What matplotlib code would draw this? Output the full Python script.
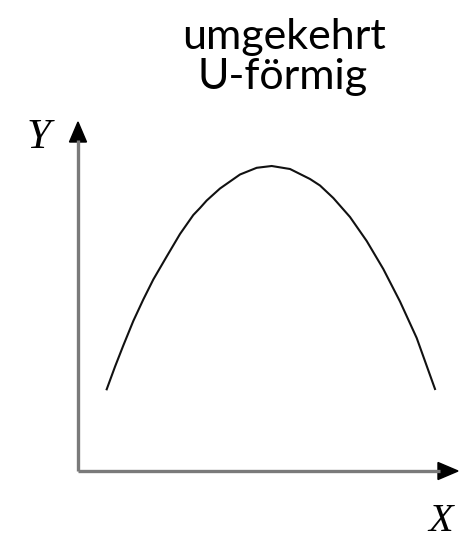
import matplotlib.pyplot as plt

# curve (origin = corner of the axes, y upward)
curve_x = [28.7, 37, 45.3, 55.3, 65.3, 75.3, 88.7, 102, 115.3, 122, 128.7, 142, 162, 178.7, 193.7,
           212, 232, 242, 255.3, 272, 288.7, 305.3, 322, 338.7, 357]
curve_y = [81.7, 104.3, 125.5, 150, 171.5, 191.5, 214.5, 237, 256, 263, 270.5, 282.5, 296.5, 303.2, 305,
           302, 292, 285.5, 273, 254, 230, 202, 169.5, 133, 82]

title_lines = ['umgekehrt', 'U-förmig']
x_label = 'X'
y_label = 'Y'
x_end = 380
y_end = 349

fig = plt.figure(figsize=(4.59, 5.42), dpi=100)
ax = fig.add_axes([0, 0, 1, 1])
ax.set_xlim(-78, 381)
ax.set_ylim(-71, 471)
ax.axis('off')

# axes lines (gray) with black arrow heads
ax.plot([0, x_end - 18], [0, 0], color='#7a7a7a', lw=2.4, solid_capstyle='butt')
ax.plot([0, 0], [0, y_end - 18], color='#7a7a7a', lw=2.4, solid_capstyle='butt')
ax.arrow(x_end - 20, 0, 20, 0, width=0, head_width=17, head_length=20,
         length_includes_head=True, fc='black', ec='black')
ax.arrow(0, y_end - 20, 0, 20, width=0, head_width=17, head_length=20,
         length_includes_head=True, fc='black', ec='black')

ax.plot(curve_x, curve_y, color='#111111', lw=1.5, solid_joinstyle='round')

ax.text(206, 422, title_lines[0], ha='center', va='baseline', fontsize=31, family='Lato')
ax.text(205, 382, title_lines[1], ha='center', va='baseline', fontsize=31, family='Lato')
ax.text(-51, 323, y_label, ha='left', va='baseline', fontsize=31, family='Liberation Serif', style='italic')
ax.text(350, -60, x_label, ha='left', va='baseline', fontsize=29, family='Liberation Serif', style='italic')

plt.savefig('out.png', dpi=100)
